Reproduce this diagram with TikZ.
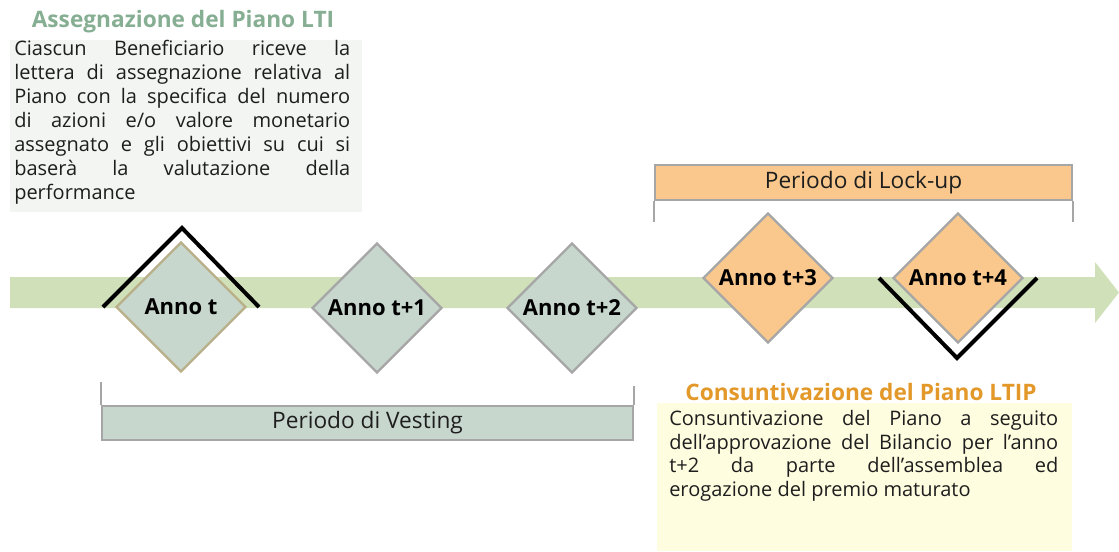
\documentclass[tikz,border=0pt]{standalone}
\usepackage{fontspec}
\setmainfont{Open Sans}
\usetikzlibrary{shapes.geometric}
\definecolor{fascia}{HTML}{D0E1BA}
\definecolor{grigioverde}{HTML}{C8D7CD}
\definecolor{arancio}{HTML}{FAC88C}
\definecolor{bordo}{HTML}{A6A6A6}
\definecolor{kaki}{HTML}{B9B08A}
\definecolor{grigiochiaro}{HTML}{F3F5F3}
\definecolor{giallino}{HTML}{FFFDE0}
\definecolor{verdetitolo}{HTML}{86AE92}
\definecolor{aranciotitolo}{HTML}{E3992A}
\definecolor{testoscuro}{HTML}{1E1E1E}
\newcommand\unita{0.75pt}
\newcommand\lato{97.5pt}
\newcommand\corpo[1]{\fontsize{15pt}{#1}\selectfont\hyphenpenalty 10000\relax}

\tikzset{
	annoverde/.style = {diamond, aspect = 1, minimum width = \lato, minimum height = \lato, inner sep = 0pt,
		line width = 1.8pt, draw = bordo, fill = grigioverde, font = \fontsize{16.5pt}{18pt}\bfseries},
	annoinizio/.style = {annoverde, draw = kaki},
	annoarancio/.style = {annoverde, fill = arancio},
	staffa/.style = {line width = 3pt, line join = miter},
	periodo/.style = {draw = bordo, line width = 1.5pt, inner sep = 0pt, text = testoscuro,
		font = \fontsize{17pt}{18pt}\selectfont},
	titolo/.style = {inner sep = 0pt, font = \fontsize{17pt}{18pt}\bfseries},
	descrizione/.style = {inner sep = 0pt, anchor = north west, align = justify, text = testoscuro}
}

\begin{document}
\begin{tikzpicture}[x = \unita, y = \unita, yscale = -1]
	\useasboundingbox (0, 0) rectangle (1119, 551);

	% Freccia del tempo:
	\fill [fascia] (10, 277) -- (1095, 277) -- (1095, 262) -- (1119, 292.5) -- (1095, 323) -- (1095, 308) -- (10, 308) -- cycle;

	% Riquadri di testo
	\fill [grigiochiaro] (10, 40) rectangle (362, 212);
	\fill [giallino] (657, 403) rectangle (1072, 551);

	% Anni
	\foreach \x/\y/\nome/\stile/\testo in {
		181/307/anno0/annoinizio/{Anno t}, 377/308/anno1/annoverde/{Anno t+1}, 572/308/anno2/annoverde/{Anno t+2},
		768/278/anno3/annoarancio/{Anno t+3}, 958/278/anno4/annoarancio/{Anno t+4}
	} {
		\node [\stile] (\nome) at (\x, \y) {\testo};
	}
	\draw [staffa] (anno0.center) ++(-78, 0) -- ++(79, -79) -- ++(77, 79);
	\draw [staffa] (anno4.center) ++(-79, 0) -- ++(78, 80) -- ++(80, -80);

	% Periodi
	\node [periodo, fill = grigioverde, minimum width = 398.25pt, minimum height = 25.5pt] (vesting) at (367.5, 423) {Periodo di Vesting};
	\node [periodo, fill = arancio, minimum width = 312.75pt, minimum height = 26.25pt] (lockup) at (863.5, 182.5) {Periodo di Lock-up};
	\begin{scope}[draw = bordo, line width = 1.5pt]
		\draw (vesting.north west) -- ++(0, -23);
		\draw (vesting.north east) -- ++(0, -19);
		\draw (lockup.south west) -- ++(0, 21);
		\draw (lockup.south east) -- ++(0, 21);
	\end{scope}

	% Assegnazione
	\node [titolo, text = verdetitolo] (titoloassegnazione) at (183, 22) {Assegnazione del Piano LTI};
	\node [descrizione, text width = 252pt, font = \corpo{18pt}] (testoassegnazione) at (14, 40) {Ciascun Beneficiario riceve la\linebreak lettera di assegnazione relativa al\linebreak Piano con la specifica del numero\linebreak di azioni e/o valore monetario\linebreak assegnato e gli obiettivi su cui si\linebreak baserà la valutazione della\linebreak performance};

	% Consuntivazione
	\node [titolo, text = aranciotitolo] (titoloconsuntivazione) at (861, 392) {Consuntivazione del Piano LTIP};
	\node [descrizione, text width = 291.75pt, font = \corpo{17.8pt}] (testoconsuntivazione) at (669, 410) {Consuntivazione del Piano a seguito\linebreak dell’approvazione del Bilancio per l’anno\linebreak t+2 da parte dell’assemblea ed\linebreak erogazione del premio maturato};
\end{tikzpicture}
\end{document}
